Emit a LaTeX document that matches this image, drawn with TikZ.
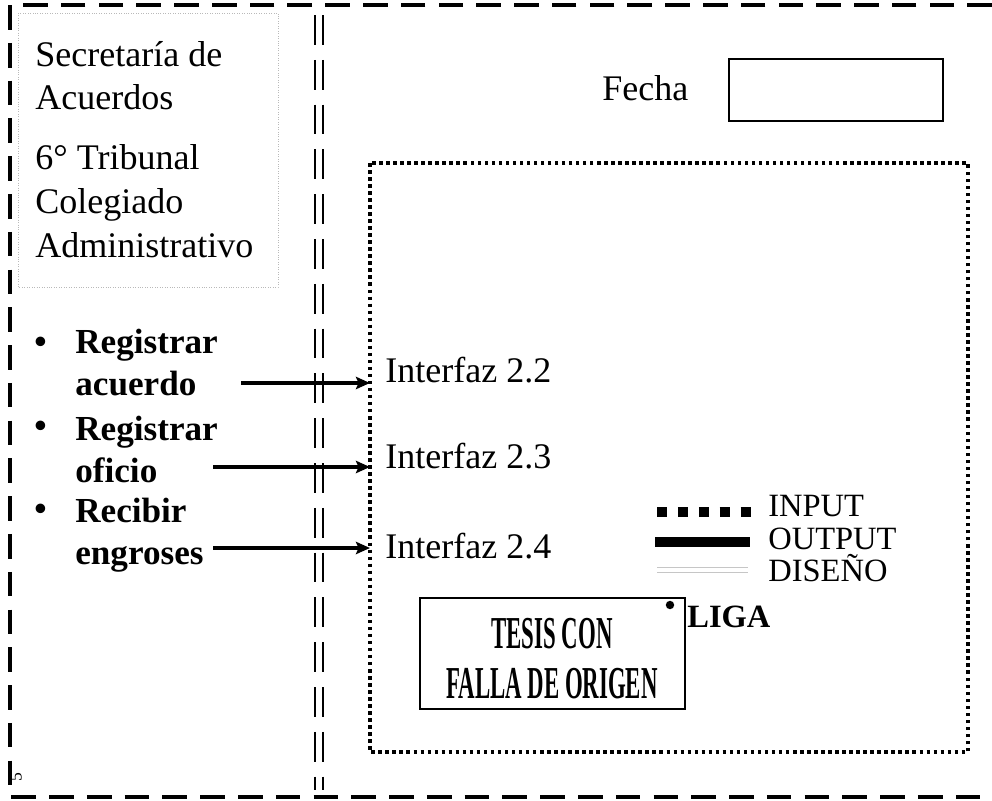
\documentclass[tikz,border=0pt]{standalone}
\usepackage{fontspec}
\setmainfont{Liberation Serif}
\usetikzlibrary{arrows.meta}
\begin{document}
\begin{tikzpicture}[x=0.02cm,y=-0.02cm,
	cadre/.style={line width=2.3pt,dash pattern=on 14pt off 7.5pt},
	separ/.style={line width=1.6pt,dash pattern=on 17pt off 8.5pt},
	pointille/.style={line width=2pt,dash pattern=on 2pt off 2pt},
	texte/.style={inner sep=0pt,anchor=base west,align=left,font=\fontsize{20.5}{24.8}\selectfont},
	action/.style={inner sep=0pt,anchor=base west,align=left,font=\fontsize{20}{23.8}\selectfont\bfseries},
	legende/.style={inner sep=0pt,anchor=base west,font=\fontsize{18.5}{20}\selectfont},
	lien/.style={-{Stealth[length=8pt,width=7pt,inset=1.5pt]},line width=2.2pt}]
	% Dimensions de l'image
	\def\xlrg{992} \def\ylrg{801}
	\useasboundingbox (0,0) rectangle (\xlrg,\ylrg);
%
% Cadre exterieur et separation
	\draw[cadre] (\xlrg,5) -- (10,5) -- (10,797) -- (\xlrg,797);
	\foreach \xs in {315,323}{
		\draw[separ] (\xs,15) -- (\xs,790);
	};
% Bloc de la secretaria (base = derniere ligne)
	\draw[gray!55,densely dotted,thin] (18,13) rectangle (278,287);
	\node[texte] (secret) at (35,110) {Secretaría de\\Acuerdos};
	\node[texte] (tribunal) at (35,257) {6° Tribunal\\Colegiado\\Administrativo};
% Actions
	\foreach \n/\yp/\y/\txt in {1/353/395/{Registrar\\acuerdo},2/437/482/{Registrar\\oficio},3/520/564/{Recibir\\engroses}}{
		\node[action] (puce\n) at (34,\yp) {\textbullet};
		\node[action] (act\n) at (75,\y) {\txt};
	};
% Fecha
	\node[texte] (fecha) at (602,100) {Fecha};
	\node[draw,line width=1.4pt,minimum width=4.28cm,minimum height=1.24cm,inner sep=0pt] (casefecha) at (836,90) {};
% Zone des interfaces
	\draw[pointille] (370,163) rectangle (968,752);
	\foreach \n/\ya/\yt/\xa/\num in {1/383/382/241/2.2,2/467/468/213/2.3,3/548/558/213/2.4}{
		\coordinate (dep\n) at (\xa,\ya);
		\node[texte,inner xsep=8.6pt] (interf\n) at (370,\yt) {Interfaz \num};
		\draw[lien] (dep\n) -- (dep\n -| interf\n.west);
	};
% Legende
	\draw[line width=5.7pt,dash pattern=on 5.7pt off 6.2pt] (657,512) -- (752,512);
	\draw[line width=5.7pt] (655,542) -- (750,542);
	\draw[gray!45,thin] (657,567) -- (748,567) (657,572) -- (748,572);
	\node[legende] (input) at (768,516) {INPUT};
	\node[legende] (output) at (768,549) {OUTPUT};
	\node[legende] (diseno) at (768,581) {DISEÑO};
	\fill (670,605) circle (2.4pt);
	\node[legende,font=\fontsize{18.5}{20}\selectfont\bfseries] (liga) at (687,627) {LIGA};
% Sello
	\node[draw,line width=1.5pt,minimum width=5.3cm,minimum height=2.22cm,inner sep=0pt] (sello) at (552.5,653.5) {};
	\node[inner sep=0pt,anchor=base,font=\fontsize{26}{28}\selectfont\bfseries] (tesis) at (552,648) {\scalebox{0.5}[1]{TESIS CON}};
	\node[inner sep=0pt,anchor=base,font=\fontsize{26}{28}\selectfont\bfseries] (falla) at (552,698) {\scalebox{0.5}[1]{FALLA DE ORIGEN}};
	\node[inner sep=0pt,rotate=90,font=\fontsize{10}{10}\selectfont] (marque) at (16,777) {5};
\end{tikzpicture}
\end{document}
